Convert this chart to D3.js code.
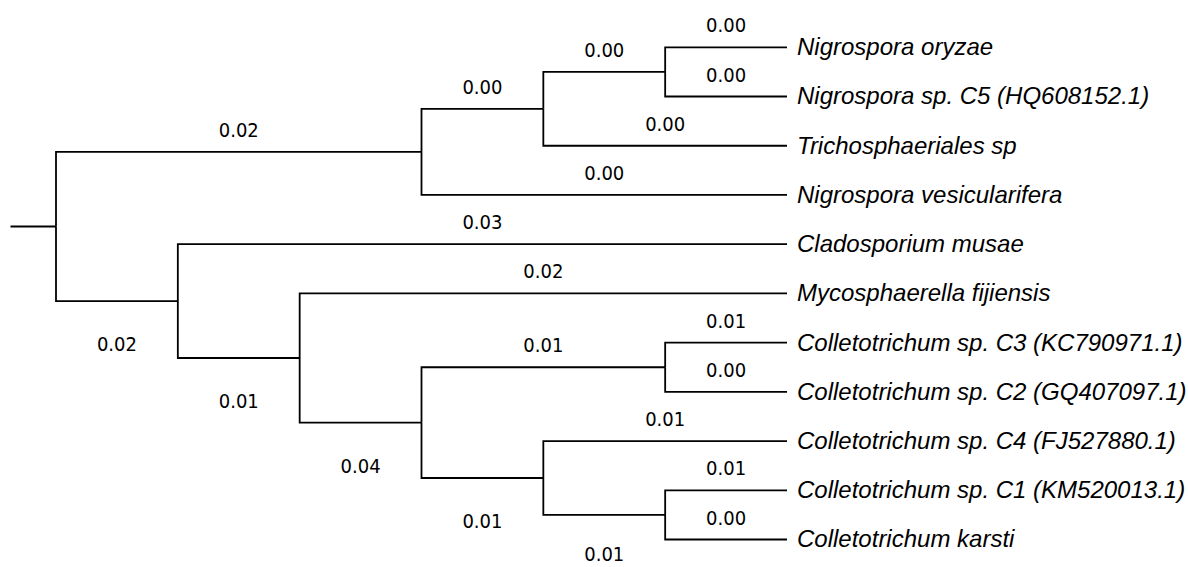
<!DOCTYPE html>
<html>
<head>
<meta charset="utf-8">
<script src="https://cdn.jsdelivr.net/npm/d3@7"></script>
<style>
  html, body { margin: 0; padding: 0; background: #fff; }
  .branch-len { font-family: "DejaVu Sans Condensed", "DejaVu Sans", sans-serif; font-stretch: condensed; font-size: 20px; fill: #000; }
  .taxon { font-family: "Liberation Sans", Arial, sans-serif; font-style: italic; font-size: 24px; fill: #000; }
</style>
</head>
<body>
<div id="chart"></div>
<script>
//tree table: node name, parent name, branch length (children in drawing order)
var nodeNames = [
  "root",
  "n1", "n2", "n3",
  "Nigrospora oryzae",
  "Nigrospora sp. C5 (HQ608152.1)",
  "Trichosphaeriales sp",
  "Nigrospora vesicularifera",
  "n4",
  "Cladosporium musae",
  "n5",
  "Mycosphaerella fijiensis",
  "n6", "n7",
  "Colletotrichum sp. C3 (KC790971.1)",
  "Colletotrichum sp. C2 (GQ407097.1)",
  "n8",
  "Colletotrichum sp. C4 (FJ527880.1)",
  "n9",
  "Colletotrichum sp. C1 (KM520013.1)",
  "Colletotrichum karsti"
];
var parentNames = [
  "",
  "root", "n1", "n2",
  "n3",
  "n3",
  "n2",
  "n1",
  "root",
  "n4",
  "n4",
  "n5",
  "n5", "n6",
  "n7",
  "n7",
  "n6",
  "n8",
  "n8",
  "n9",
  "n9"
];
var branchLengths = [
  null,
  0.02, 0.00, 0.00,
  0.00,
  0.00,
  0.00,
  0.00,
  0.02,
  0.03,
  0.01,
  0.02,
  0.04, 0.01,
  0.01,
  0.00,
  0.01,
  0.01,
  0.01,
  0.01,
  0.00
];

var W = 1188, H = 567;

var svg = d3.select("#chart").append("svg")
  .attr("width", W)
  .attr("height", H);

var rows = nodeNames.map(function(n, i) {
  return { name: n, parent: parentNames[i], length: branchLengths[i] };
});

var root = d3.stratify()
  .id(function(d) { return d.name; })
  .parentId(function(d) { return d.parent || null; })(rows);

//leaves lined up on the right, evenly spaced
d3.cluster()
  .size([1, 1])
  .separation(function() { return 1; })(root);

var xScale = d3.scaleLinear().domain([0, 1]).range([56, 787]);
var yScale = d3.scaleLinear()
  .domain(d3.extent(root.leaves(), function(d) { return d.x; }))
  .range([47.3, 539.5]);

var stubX = 10.5;

//branches
var g = svg.append("g").attr("class", "branches")
  .attr("fill", "none")
  .attr("stroke", "#000")
  .attr("stroke-width", 1.8);

g.append("path")
  .attr("d", "M" + stubX + "," + yScale(root.x) + "H" + xScale(root.y));

g.selectAll("path.link")
  .data(root.links())
  .enter()
  .append("path")
  .attr("class", "link")
  .attr("d", function(d) {
    return "M" + xScale(d.source.y) + "," + yScale(d.source.x) +
      "V" + yScale(d.target.x) +
      "H" + xScale(d.target.y);
  });

//branch length labels: internal last children get theirs below
//(kept inside the bottom edge)
svg.append("g").attr("class", "lengths")
  .selectAll("text")
  .data(root.descendants().filter(function(d) { return d.parent; }))
  .enter()
  .append("text")
  .attr("class", "branch-len")
  .attr("text-anchor", "middle")
  .attr("x", function(d) { return (xScale(d.parent.y) + xScale(d.y)) / 2; })
  .attr("y", function(d) {
    var sibs = d.parent.children;
    var below = d.children && sibs[sibs.length - 1] === d;
    return Math.min(yScale(d.x) + (below ? 50 : -15), H - 6);
  })
  .text(function(d) { return d3.format(".2f")(d.data.length); });

//taxon labels
svg.append("g").attr("class", "taxa")
  .selectAll("text")
  .data(root.leaves())
  .enter()
  .append("text")
  .attr("class", "taxon")
  .attr("x", function(d) { return xScale(d.y) + 10; })
  .attr("y", function(d) { return yScale(d.x); })
  .attr("dy", "0.33em")
  .text(function(d) { return d.data.name; });
</script>
</body>
</html>
